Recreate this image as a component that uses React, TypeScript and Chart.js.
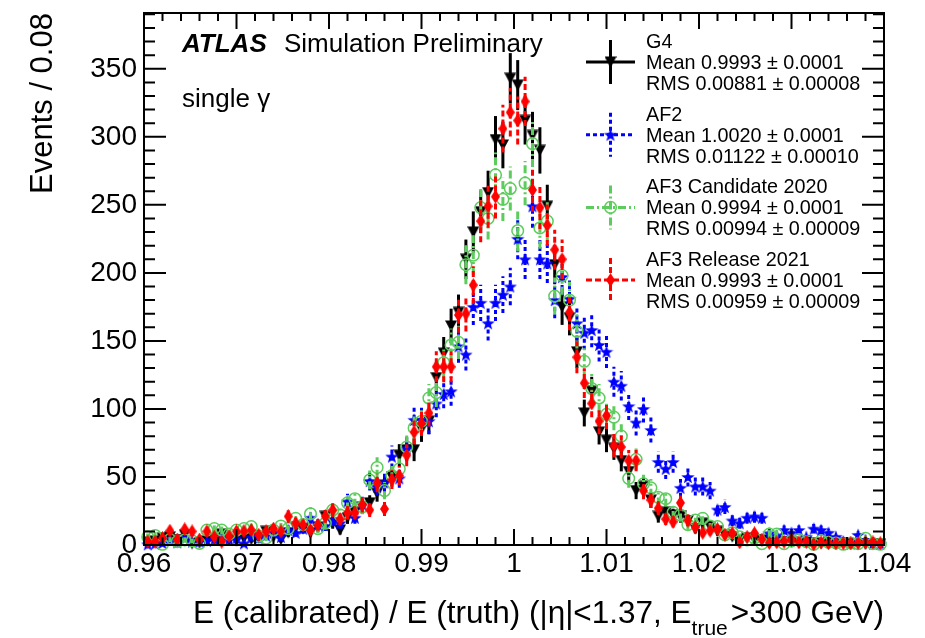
import React, { useEffect, useRef } from "react";
import { Chart, registerables } from "chart.js";

Chart.register(...registerables);

// ---------- data ----------
const BIN_LOW = 0.96;
const BIN_WIDTH = 0.0008;

const X_MIN = 0.96;
const X_MAX = 1.04;
const Y_MIN = 0;
const Y_MAX = 391;

const X_TICKS = [0.96, 0.97, 0.98, 0.99, 1.0, 1.01, 1.02, 1.03, 1.04];
const X_TICK_LABELS = ["0.96", "0.97", "0.98", "0.99", "1", "1.01", "1.02", "1.03", "1.04"];
const Y_TICKS = [0, 50, 100, 150, 200, 250, 300, 350];
const Y_TICK_LABELS = ["0", "50", "100", "150", "200", "250", "300", "350"];
const X_MINOR_STEP = 0.002;
const Y_MINOR_STEP = 10;

const SERIES_NAMES = ["G4", "AF2", "AF3 Candidate 2020", "AF3 Release 2021"];
const MEAN_LABELS = [
  "Mean 0.9993 \u00b1 0.0001",
  "Mean 1.0020 \u00b1 0.0001",
  "Mean 0.9994 \u00b1 0.0001",
  "Mean 0.9993 \u00b1 0.0001",
];
const RMS_LABELS = [
  "RMS 0.00881 \u00b1 0.00008",
  "RMS 0.01122 \u00b1 0.00010",
  "RMS 0.00994 \u00b1 0.00009",
  "RMS 0.00959 \u00b1 0.00009",
];

const G4 = [
  2, 3, 5, 6, 4, 7.5, 1, 1.5, 3, 4,
  8, 3.5, 3, 5, 4, 5, 10, 6, 4, 9,
  13, 12, 9, 13, 21, 16, 11, 20, 24, 28,
  31, 38, 44, 50, 66, 70, 70, 85, 91, 123,
  141, 161, 171, 210, 230, 245, 259, 298, 294, 343,
  338, 312, 301, 290, 249, 206, 175, 167, 142, 97,
  113, 83, 77, 71, 62, 54, 40, 43, 33, 21,
  24, 22, 21, 18, 12, 16, 13.5, 10, 7.4, 6,
  4, 5, 4, 3.7, 3, 2, 2.5, 2, 1.5, 2,
  1.5, 1, 2, 1, 1.5, 1, 1, 0.5, 1, 0.5,
];

const AF2 = [
  0.5, 1, 1.5, 4, 2, 5, 2.5, 2.5, 3, 4,
  7, 4, 5, 1.2, 6, 5, 7, 9, 6, 11,
  9, 12, 20, 15, 14, 18, 16, 32, 20, 30,
  47, 43, 46, 65, 49, 71, 92, 92, 91, 104,
  111, 113, 146, 140, 175, 178, 163, 178, 184, 190,
  225, 210, 249, 210, 207, 180, 197, 181, 163, 156,
  158, 147, 142, 120, 117, 102, 90, 100, 84.5, 61,
  56, 61, 42, 50, 43, 43, 40, 26, 28, 18,
  16, 20, 21, 20, 8.6, 7, 11, 9, 11, 6,
  12, 11, 9, 6, 2.5, 1, 7.4, 3.7, 1, 1,
];

const AF3_CAND = [
  6, 7, 0.5, 4, 2.5, 3.7, 3, 1.2, 11, 12,
  11, 8, 11, 12, 13.5, 6.6, 5, 11, 14, 12,
  19.6, 15, 23, 12, 16, 25.7, 22, 31, 34, 28,
  47.8, 57, 40, 51, 56, 72, 86, 91, 108, 112,
  134, 147, 149, 206, 213, 248, 240, 272, 254, 262,
  231, 266, 295, 233, 238, 183, 198, 180, 157, 135,
  115, 108, 96, 94, 80, 49, 63, 45, 42, 35,
  34, 24, 22, 15, 18.4, 19.6, 14, 13.5, 7.4, 9,
  6, 3.7, 5, 1, 8, 8, 1, 3, 4, 2.5,
  0.5, 3, 2, 1.5, 0.5, 1.5, 1, 5, 1, 0.5,
];

const AF3_REL = [
  2.5, 2.5, 5, 10.5, 4, 11.5, 10, 4, 10, 6,
  2.5, 6.5, 10, 10, 11, 7.5, 10, 12, 10, 21,
  16, 14.7, 11, 14.7, 21, 25.7, 19, 23.7, 23.5, 29.4,
  25.7, 45.6, 26.5, 48, 51, 66, 83, 89.5, 97, 131,
  131, 131, 169, 170, 191, 238, 249, 256, 306, 318,
  312, 326, 261, 248, 235, 217, 210, 171, 138, 119,
  104, 91, 95, 73, 72, 62, 62, 40, 33, 27,
  19, 17, 31, 18, 13, 9, 10.5, 11.5, 7.4, 8.6,
  2, 6, 8.6, 4, 1.5, 2, 2.5, 4, 2, 2.5,
  0.5, 2, 1.2, 1.2, 1.2, 1.2, 1.5, 2, 2, 1.2,
];

// ---------- style ----------
const FONT = '"Liberation Sans", Arial, Helvetica, sans-serif';
const GREEN = "#5ccc5c";

type Style = { color: string; dash: number[]; order: number };
const STYLES: Style[] = [
  { color: "#000000", dash: [], order: 3 },
  { color: "#0000ff", dash: [4, 3], order: 2 },
  { color: GREEN, dash: [8, 3, 2, 3], order: 1 },
  { color: "#ff0000", dash: [6, 3], order: 0 },
];

function makeMarker(w: number, h: number, draw: (c: CanvasRenderingContext2D) => void) {
  const c = document.createElement("canvas");
  c.width = w;
  c.height = h;
  const ctx = c.getContext("2d")!;
  draw(ctx);
  return c;
}

export default function App() {
  const ref = useRef<HTMLCanvasElement>(null);

  useEffect(() => {
    if (!ref.current) return;
    const VALUES = [G4, AF2, AF3_CAND, AF3_REL];
    const centers = G4.map((_, i) => BIN_LOW + BIN_WIDTH * (i + 0.5));

    const triDown = makeMarker(12, 12, (c) => {
      c.fillStyle = "#000";
      c.beginPath();
      c.moveTo(0, 0.5);
      c.lineTo(12, 0.5);
      c.lineTo(6, 11.8);
      c.closePath();
      c.fill();
    });
    const star = makeMarker(14, 14, (c) => {
      c.fillStyle = "#0000ff";
      c.beginPath();
      for (let k = 0; k < 10; k++) {
        const r = k % 2 === 0 ? 7 : 2.9;
        const a = -Math.PI / 2 + (k * Math.PI) / 5;
        const px = 7 + r * Math.cos(a);
        const py = 7.6 + r * Math.sin(a);
        if (k === 0) c.moveTo(px, py);
        else c.lineTo(px, py);
      }
      c.closePath();
      c.fill();
    });
    const diamond = makeMarker(9, 14, (c) => {
      c.fillStyle = "#ff0000";
      c.beginPath();
      c.moveTo(4.5, 0);
      c.lineTo(9, 7);
      c.lineTo(4.5, 14);
      c.lineTo(0, 7);
      c.closePath();
      c.fill();
    });
    const markers: any[] = [triDown, star, "circle", diamond];
    const CIRCLE_R = 5.8;

    const datasets = VALUES.map((vals, k) => {
      const base: any = {
        label: SERIES_NAMES[k],
        data: vals.map((v, i) => ({ x: centers[i], y: v })),
        showLine: false,
        order: STYLES[k].order,
        clip: false,
        pointStyle: markers[k],
        pointRadius: 5,
        pointHoverRadius: 5,
      };
      if (k === 2) {
        base.pointRadius = CIRCLE_R;
        base.pointHoverRadius = CIRCLE_R;
        base.pointBorderWidth = 1.5;
        base.pointBorderColor = GREEN;
        base.pointBackgroundColor = "rgba(0,0,0,0)";
      } else {
        base.pointBorderWidth = 0;
        base.pointBackgroundColor = STYLES[k].color;
        base.pointBorderColor = STYLES[k].color;
      }
      return base;
    });

    const drawMarker = (ctx: CanvasRenderingContext2D, k: number, x: number, y: number) => {
      const m = markers[k];
      if (typeof m === "string") {
        ctx.save();
        ctx.setLineDash([]);
        ctx.strokeStyle = GREEN;
        ctx.lineWidth = 1.5;
        ctx.beginPath();
        ctx.arc(x, y, CIRCLE_R, 0, Math.PI * 2);
        ctx.stroke();
        ctx.restore();
      } else {
        ctx.drawImage(m, x - m.width / 2, y - m.height / 2);
      }
    };

    const plugin = {
      id: "atlasDecor",
      beforeDatasetDraw(chart: any, args: any) {
        const k = args.index;
        const vals = VALUES[k];
        const ys = chart.scales.y;
        const ctx = chart.ctx as CanvasRenderingContext2D;
        ctx.save();
        ctx.strokeStyle = STYLES[k].color;
        ctx.lineWidth = 3;
        ctx.setLineDash(STYLES[k].dash);
        args.meta.data.forEach((el: any, j: number) => {
          const v = vals[j];
          const e = Math.sqrt(v);
          const y1 = ys.getPixelForValue(Math.max(v - e, 0));
          const y2 = ys.getPixelForValue(v + e);
          ctx.beginPath();
          ctx.moveTo(el.x, y1);
          ctx.lineTo(el.x, y2);
          ctx.stroke();
        });
        ctx.restore();
      },
      afterDraw(chart: any) {
        const ctx = chart.ctx as CanvasRenderingContext2D;
        const a = chart.chartArea;
        const xs = chart.scales.x;
        const ys = chart.scales.y;
        ctx.save();
        ctx.setLineDash([]);
        ctx.strokeStyle = "#000";
        ctx.lineWidth = 2;
        ctx.strokeRect(a.left, a.top, a.right - a.left, a.bottom - a.top);

        // x ticks (bottom + top, inward)
        const nx = Math.round((X_MAX - X_MIN) / X_MINOR_STEP);
        for (let k = 0; k <= nx; k++) {
          const v = X_MIN + k * X_MINOR_STEP;
          const px = xs.getPixelForValue(v);
          const len = k % 5 === 0 ? 16 : 8;
          ctx.beginPath();
          ctx.moveTo(px, a.bottom);
          ctx.lineTo(px, a.bottom - len);
          ctx.moveTo(px, a.top);
          ctx.lineTo(px, a.top + len);
          ctx.stroke();
        }
        // y ticks (left + right, inward)
        for (let v = Y_MIN; v <= Y_MAX; v += Y_MINOR_STEP) {
          const py = ys.getPixelForValue(v);
          const len = v % 50 === 0 ? 22 : 11;
          ctx.beginPath();
          ctx.moveTo(a.left, py);
          ctx.lineTo(a.left + len, py);
          ctx.moveTo(a.right, py);
          ctx.lineTo(a.right - len, py);
          ctx.stroke();
        }

        ctx.fillStyle = "#000";
        // y title
        ctx.save();
        ctx.font = `31px ${FONT}`;
        ctx.textAlign = "left";
        ctx.textBaseline = "alphabetic";
        ctx.translate(52, 194);
        ctx.rotate(-Math.PI / 2);
        ctx.fillText("Events / 0.08", 0, 0);
        ctx.restore();

        // x title
        const seg1 = "E (calibrated) / E (truth) (|\u03b7|<1.37, E";
        const sub = "true";
        const seg3 = ">300 GeV)";
        ctx.font = `31.5px ${FONT}`;
        const w1 = ctx.measureText(seg1).width;
        const w3 = ctx.measureText(seg3).width;
        ctx.font = `21px ${FONT}`;
        const w2 = ctx.measureText(sub).width;
        const xEnd = a.right;
        const x0 = xEnd - (w1 + w2 + 3 + w3);
        const base = 623;
        ctx.textAlign = "left";
        ctx.font = `31.5px ${FONT}`;
        ctx.fillText(seg1, x0, base);
        ctx.font = `21px ${FONT}`;
        ctx.fillText(sub, x0 + w1, base + 12);
        ctx.font = `31.5px ${FONT}`;
        ctx.fillText(seg3, x0 + w1 + w2 + 3, base);

        // ATLAS label
        ctx.font = `italic bold 26px ${FONT}`;
        ctx.fillText("ATLAS", 182, 52);
        ctx.font = `26px ${FONT}`;
        ctx.fillText("Simulation Preliminary", 284, 52);
        ctx.fillText("single \u03b3", 182, 107);

        // legend
        for (let k = 0; k < 4; k++) {
          const b0 = 48 + 72.7 * k;
          const cy = b0 + 14;
          const cx = 610.5;
          ctx.save();
          ctx.strokeStyle = STYLES[k].color;
          ctx.lineWidth = 3;
          ctx.setLineDash(STYLES[k].dash);
          ctx.beginPath();
          ctx.moveTo(586, cy);
          ctx.lineTo(635, cy);
          ctx.stroke();
          ctx.beginPath();
          ctx.moveTo(cx, cy - 22);
          ctx.lineTo(cx, cy + 22);
          ctx.stroke();
          ctx.restore();
          drawMarker(ctx, k, cx, cy);
          ctx.font = `19.8px ${FONT}`;
          ctx.fillStyle = "#000";
          ctx.fillText(SERIES_NAMES[k], 646, b0);
          ctx.fillText(MEAN_LABELS[k], 646, b0 + 21);
          ctx.fillText(RMS_LABELS[k], 646, b0 + 42);
        }
        ctx.restore();
      },
    };

    const chart = new Chart(ref.current, {
      type: "scatter",
      data: { datasets },
      options: {
        animation: false,
        responsive: false,
        devicePixelRatio: 1,
        events: [],
        layout: { padding: { top: 13, right: 41, left: 0, bottom: 0 } },
        plugins: { legend: { display: false }, tooltip: { enabled: false } },
        scales: {
          x: {
            type: "linear",
            min: X_MIN,
            max: X_MAX,
            grid: { display: false, drawTicks: false },
            border: { display: false },
            ticks: {
              autoSkip: false,
              maxRotation: 0,
              padding: 2,
              color: "#000",
              font: { family: FONT, size: 28 },
              callback: (_v: any, i: number) => X_TICK_LABELS[i],
            },
            afterBuildTicks: (s: any) => {
              s.ticks = X_TICKS.map((v) => ({ value: v }));
            },
            afterFit: (s: any) => {
              s.height = 93;
              s.paddingLeft = 0;
              s.paddingRight = 0;
            },
          },
          y: {
            type: "linear",
            min: Y_MIN,
            max: Y_MAX,
            grid: { display: false, drawTicks: false },
            border: { display: false },
            ticks: {
              padding: 7,
              color: "#000",
              font: { family: FONT, size: 28 },
              callback: (_v: any, i: number) => Y_TICK_LABELS[i],
            },
            afterBuildTicks: (s: any) => {
              s.ticks = Y_TICKS.map((v) => ({ value: v }));
            },
            afterFit: (s: any) => {
              s.width = 144;
              s.paddingTop = 0;
              s.paddingBottom = 0;
            },
          },
        },
      } as any,
      plugins: [plugin as any],
    });
    return () => chart.destroy();
  }, []);

  return (
    <div style={{ position: "absolute", left: 0, top: 0, width: 925, height: 638, background: "#fff" }}>
      <canvas ref={ref} width={925} height={638} style={{ display: "block" }} />
    </div>
  );
}
